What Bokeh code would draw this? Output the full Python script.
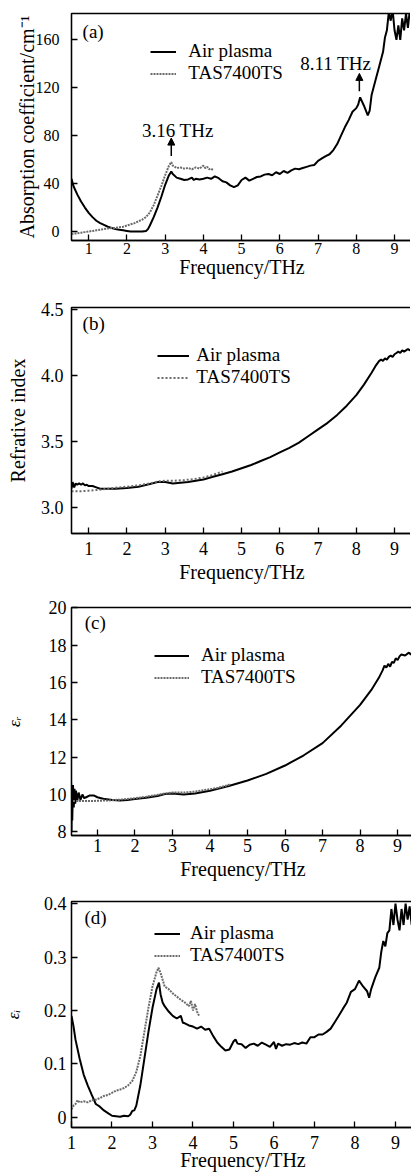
from bokeh.plotting import figure
from bokeh.layouts import column
from bokeh.models import (Range1d, FixedTicker, Legend, LegendItem, Label, Arrow,
                          NormalHead, PrintfTickFormatter)
from bokeh.embed import file_html
from bokeh.resources import INLINE

FONT = "Liberation Serif"

# ---------------- data ----------------
x_ticks = [1, 2, 3, 4, 5, 6, 7, 8, 9]

# (a) absorption coefficient
a_air_x = [0.55, 0.6, 0.7, 0.8, 0.9, 1.0, 1.1, 1.2, 1.3, 1.4,
           1.5, 1.6, 1.7, 1.8, 1.9, 2.0, 2.1, 2.2, 2.3, 2.4,
           2.5, 2.55, 2.6, 2.7, 2.8, 2.9, 3.0, 3.1, 3.16, 3.2,
           3.3, 3.4, 3.5, 3.6, 3.7, 3.75, 3.8, 3.9, 4.0, 4.1,
           4.2, 4.3, 4.4, 4.5, 4.6, 4.7, 4.8, 4.9, 5.0, 5.1,
           5.2, 5.3, 5.4, 5.5, 5.6, 5.7, 5.8, 5.9, 6.0, 6.1,
           6.2, 6.3, 6.4, 6.5, 6.6, 6.7, 6.8, 6.9, 7.0, 7.1,
           7.2, 7.3, 7.4, 7.5, 7.6, 7.7, 7.8, 7.9, 8.0, 8.05,
           8.1, 8.2, 8.3, 8.35, 8.4, 8.5, 8.6, 8.7, 8.75, 8.8,
           8.85, 8.9, 8.95, 9.0, 9.05, 9.1, 9.15, 9.2, 9.25, 9.3,
           9.35, 9.4, 9.47]
a_air_y = [44, 38, 31, 25, 20, 15.5, 12, 9, 7, 5.5,
           4, 3, 2, 1.5, 1, 0.5, 0, 0, 0, 0,
           0.5, 2, 5, 12, 20, 29, 39, 47, 50, 48,
           45, 44, 43, 43.5, 45, 43, 44, 43.5, 44, 45,
           44, 46, 44.5, 42, 41, 38.5, 37, 38.5, 43, 45,
           42.5, 44, 45.5, 46, 47.5, 48, 47, 49.5, 48, 50.5,
           49, 51, 52.5, 52, 53, 54, 55, 55.5, 59, 61,
           63, 64.5, 68, 73, 80, 87, 93, 100, 103, 106,
           112, 105, 97, 101, 114, 126, 138, 150, 162, 168,
           183, 176, 185, 168, 160, 172, 160, 178, 168, 182,
           170, 185, 172]
a_tas_x = [0.55, 0.7, 0.8, 0.9, 1.0,
           1.1, 1.2, 1.3, 1.4, 1.5, 1.6, 1.7, 1.8, 1.9, 2.0,
           2.1, 2.2, 2.3, 2.4, 2.5, 2.6, 2.7, 2.8, 2.9, 3.0, 3.1,
           3.16,
           3.2, 3.3, 3.4, 3.5, 3.6, 3.7, 3.8, 3.9, 4.0,
           4.05, 4.1, 4.15, 4.2, 4.25]
a_tas_y = [-2, -1.5, -1, -0.5, 0,
           0.5, 1, 1.5, 2, 2.5, 3, 3, 3.5, 4, 5,
           6, 7, 8.5, 10, 12, 16, 22, 30, 38, 47, 55,
           58,
           55, 53, 53.5, 52.5, 53, 52, 53.5, 52.5, 55,
           53, 54, 52, 52.5, 51.5]
a_y_ticks = [0, 40, 80, 120, 160]

# (b) refractive index
b_air_x = [0.55, 0.58, 0.62, 0.66, 0.7, 0.75, 0.8, 0.85, 0.9, 0.95,
           1.0, 1.1, 1.2, 1.3, 1.4, 1.5, 1.7, 2.0, 2.3, 2.6,
           2.8, 3.0, 3.2, 3.4, 3.6, 3.8, 4.0, 4.25, 4.5, 4.75,
           5.0, 5.25, 5.5, 5.75, 6.0, 6.25, 6.5, 6.75, 7.0, 7.25,
           7.5, 7.75, 8.0, 8.2, 8.4, 8.5, 8.6, 8.65, 8.7, 8.75,
           8.8, 8.85, 8.9, 8.95, 9.0, 9.05, 9.1, 9.15, 9.2, 9.25,
           9.3, 9.35, 9.4, 9.47]
b_air_y = [3.14, 3.19, 3.15, 3.18, 3.17, 3.18, 3.17, 3.18, 3.165, 3.17,
           3.16, 3.16, 3.15, 3.14, 3.14, 3.14, 3.14, 3.145, 3.155, 3.175,
           3.19, 3.19, 3.18, 3.185, 3.19, 3.2, 3.21, 3.23, 3.25, 3.27,
           3.295, 3.32, 3.35, 3.38, 3.415, 3.45, 3.49, 3.54, 3.59, 3.64,
           3.7, 3.77, 3.85, 3.93, 4.02, 4.07, 4.11, 4.12, 4.11, 4.13,
           4.12, 4.14, 4.15, 4.14, 4.16, 4.17, 4.18, 4.17, 4.19, 4.18,
           4.19, 4.2, 4.19, 4.21]
b_tas_x = [0.55, 0.8, 1.0, 1.2, 1.5, 1.8, 2.0, 2.3, 2.6, 2.8,
           3.0, 3.2, 3.5, 3.8, 4.0, 4.2, 4.4, 4.5]
b_tas_y = [3.12, 3.12, 3.125, 3.13, 3.14, 3.15, 3.155, 3.165, 3.18, 3.195,
           3.2, 3.2, 3.205, 3.215, 3.225, 3.24, 3.26, 3.27]
b_y_ticks = [3.0, 3.5, 4.0, 4.5]

# (c) real permittivity
c_air_x = [0.3, 0.31, 0.32, 0.33, 0.35, 0.37, 0.39, 0.41, 0.43, 0.46,
           0.5, 0.55, 0.6, 0.65, 0.7, 0.8, 0.9, 1.0, 1.1, 1.2,
           1.4, 1.6, 1.8, 2.0, 2.3, 2.6, 2.8, 3.0, 3.3, 3.6,
           4.0, 4.5, 5.0, 5.5, 6.0, 6.5, 7.0, 7.5, 8.0, 8.3,
           8.5, 8.6, 8.65, 8.7, 8.75, 8.8, 8.85, 8.9, 8.95, 9.0,
           9.05, 9.1, 9.2, 9.3, 9.35, 9.4, 9.45]
c_air_y = [10.6, 8.0, 10.4, 8.6, 10.5, 9.3, 10.3, 9.5, 10.2, 9.6,
           10.1, 9.7, 10.0, 9.8, 9.85, 9.95, 9.95, 9.85, 9.8, 9.75,
           9.7, 9.68, 9.7, 9.75, 9.82, 9.92, 10.02, 10.05, 10.0, 10.05,
           10.2, 10.45, 10.75, 11.1, 11.55, 12.1, 12.75, 13.7, 14.8, 15.6,
           16.25, 16.65, 16.9, 16.8, 17.0, 16.85, 17.1, 17.05, 17.3, 17.2,
           17.4, 17.5, 17.45, 17.6, 17.5, 17.65, 17.5]
c_tas_x = [0.35, 0.6, 0.8, 1.0, 1.3, 1.6, 2.0, 2.3, 2.6, 2.8,
           3.0, 3.3, 3.6, 3.9, 4.2, 4.4, 4.55]
c_tas_y = [9.65, 9.65, 9.65, 9.66, 9.68, 9.72, 9.8, 9.88, 9.98, 10.05,
           10.1, 10.1, 10.15, 10.25, 10.35, 10.45, 10.55]
c_y_ticks = [8, 10, 12, 14, 16, 18, 20]

# (d) imaginary permittivity
d_air_x = [1.0, 1.05, 1.1, 1.2, 1.3, 1.4, 1.5, 1.6, 1.7, 1.8,
           1.9, 2.0, 2.1, 2.2, 2.3, 2.4, 2.45, 2.5, 2.55, 2.6,
           2.7, 2.8, 2.9, 3.0, 3.1, 3.16, 3.2, 3.25, 3.3, 3.4,
           3.5, 3.6, 3.7, 3.75, 3.8, 3.9, 4.0, 4.1, 4.2, 4.3,
           4.4, 4.5, 4.6, 4.7, 4.8, 4.9, 5.0, 5.05, 5.1, 5.2,
           5.3, 5.4, 5.5, 5.6, 5.7, 5.8, 5.9, 6.0, 6.05, 6.1,
           6.2, 6.3, 6.4, 6.5, 6.6, 6.7, 6.8, 6.9, 7.0, 7.1,
           7.2, 7.3, 7.4, 7.5, 7.6, 7.7, 7.8, 7.9, 8.0, 8.1,
           8.2, 8.3, 8.35, 8.4, 8.5, 8.6, 8.65, 8.7, 8.75, 8.8,
           8.85, 8.9, 8.95, 9.0, 9.05, 9.1, 9.15, 9.2, 9.25, 9.3,
           9.35, 9.4, 9.47]
d_air_y = [0.19, 0.17, 0.145, 0.11, 0.08, 0.06, 0.042, 0.025, 0.02, 0.013,
           0.008, 0.003, 0.002, 0.001, 0.003, 0.002, 0.005, 0.012, 0.013, 0.022,
           0.06, 0.11, 0.16, 0.205, 0.24, 0.252, 0.23, 0.215, 0.208, 0.198,
           0.19, 0.185, 0.19, 0.177, 0.176, 0.172, 0.17, 0.166, 0.17, 0.164,
           0.166, 0.152, 0.14, 0.132, 0.125, 0.127, 0.142, 0.146, 0.138, 0.137,
           0.13, 0.136, 0.138, 0.134, 0.14, 0.136, 0.132, 0.141, 0.128, 0.138,
           0.134, 0.137, 0.136, 0.139, 0.137, 0.14, 0.138, 0.15, 0.15, 0.155,
           0.155, 0.16, 0.166, 0.178, 0.19, 0.203, 0.215, 0.235, 0.24, 0.256,
           0.245, 0.236, 0.224, 0.24, 0.262, 0.28, 0.31, 0.33, 0.32, 0.345,
           0.35, 0.39, 0.36, 0.4, 0.37, 0.35, 0.39, 0.36, 0.4, 0.37,
           0.395, 0.36, 0.4]
d_tas_x = [1.0, 1.05, 1.1, 1.15, 1.2, 1.3, 1.4, 1.5, 1.6, 1.7,
           1.8, 1.9, 2.0, 2.1, 2.2, 2.3, 2.4, 2.5, 2.6, 2.7,
           2.8, 2.9, 3.0, 3.1, 3.15, 3.2, 3.3, 3.4, 3.5, 3.6,
           3.7, 3.8, 3.9, 3.95, 4.0, 4.05, 4.1, 4.15]
d_tas_y = [0.015, 0.022, 0.025, 0.032, 0.028, 0.03, 0.028, 0.032, 0.033, 0.036,
           0.04, 0.042, 0.046, 0.05, 0.052, 0.055, 0.06, 0.068, 0.085, 0.115,
           0.16, 0.205, 0.245, 0.272, 0.28, 0.27, 0.245, 0.24, 0.232, 0.226,
           0.22, 0.215, 0.208, 0.218, 0.2, 0.212, 0.198, 0.19]
d_y_ticks = [0, 0.1, 0.2, 0.3, 0.4]

series_names = ["Air plasma", "TAS7400TS"]
peak_labels = ["3.16 THz", "8.11 THz"]
peak_pos = [3.16, 8.08]


def make_panel(tag, xr, yr, yticks, ylabel, air, tas, fw, fh, bl, bt, bb,
               tick_fs, ysto, ylsto, xsto, xlsto, leg, tagpos, ylab_fs="20px",
               ylab_italic=False, overrides=None, yfmt=None, tas_dash="2 1"):
    p = figure(frame_width=fw, frame_height=fh,
               x_range=Range1d(*xr), y_range=Range1d(*yr),
               output_backend="svg", toolbar_location=None,
               min_border_left=bl, min_border_right=1, min_border_top=bt,
               min_border_bottom=bb)
    p.grid.visible = False
    p.outline_line_color = "black"
    p.outline_line_width = 1.3
    p.background_fill_color = "white"
    p.border_fill_color = "white"

    r1 = p.line(air[0], air[1], line_color="black", line_width=2)
    r2 = p.line(tas[0], tas[1], line_color="#6a6a6a", line_width=2, line_dash=tas_dash)

    for ax in (p.xaxis[0], p.yaxis[0]):
        ax.major_tick_in = 6
        ax.major_tick_out = 0
        ax.minor_tick_in = 0
        ax.minor_tick_out = 0
        ax.axis_line_color = "black"
        ax.axis_line_width = 1.3
        ax.major_tick_line_width = 1.3
        ax.major_label_text_font = FONT
        ax.major_label_text_font_size = tick_fs
        ax.major_label_text_color = "black"
        ax.axis_label_text_font = FONT
        ax.axis_label_text_font_size = "20px"
        ax.axis_label_text_font_style = "normal"
        ax.axis_label_text_color = "black"

    p.xaxis[0].ticker = FixedTicker(ticks=x_ticks)
    p.xaxis[0].axis_label = "Frequency/THz"
    p.xaxis[0].major_label_standoff = xsto
    p.xaxis[0].axis_label_standoff = xlsto

    p.yaxis[0].ticker = FixedTicker(ticks=yticks)
    p.yaxis[0].axis_label = ylabel
    p.yaxis[0].major_label_standoff = ysto
    p.yaxis[0].axis_label_standoff = ylsto
    p.yaxis[0].axis_label_text_font_size = ylab_fs
    if yfmt:
        p.yaxis[0].formatter = PrintfTickFormatter(format=yfmt)
    if ylab_italic:
        p.yaxis[0].axis_label_text_font_style = "italic"
    if overrides:
        p.yaxis[0].major_label_overrides = overrides

    gx, gw, gh, lsto = leg
    legend = Legend(items=[LegendItem(label=series_names[0], renderers=[r1]),
                           LegendItem(label=series_names[1], renderers=[r2])],
                    location=gx, border_line_alpha=0, background_fill_alpha=0,
                    padding=0, margin=0, spacing=0, glyph_width=gw, glyph_height=gh,
                    label_height=gh, label_standoff=lsto,
                    label_text_font=FONT, label_text_font_size="19px",
                    label_text_color="black")
    p.add_layout(legend)

    p.add_layout(Label(x=tagpos[0], y=tagpos[1], text=tag, text_font=FONT,
                       text_font_size="19px", text_baseline="middle",
                       text_align="left", text_color="black"))
    return p


pa = make_panel("(a)", (0.55, 9.47), (-7.5, 182), a_y_ticks,
                "Absorption coefficient/cm\u207b\u00b9",
                (a_air_x, a_air_y), (a_tas_x, a_tas_y),
                fw=341, fh=227, bl=68, bt=13, bb=50, tick_fs="16px",
                ysto=12, ylsto=-5, xsto=2, xlsto=-1,
                leg=((88, 156), 26, 19, 12), tagpos=(0.84, 167))
for lbl, xp, lx, ly, ys, ye in zip(peak_labels, peak_pos, [3.33, 7.46], [84, 140],
                                   [63, 117], [78, 132]):
    pa.add_layout(Label(x=lx, y=ly, text=lbl, text_font=FONT, text_font_size="19px",
                        text_align="center", text_baseline="middle", text_color="black"))
    pa.add_layout(Arrow(end=NormalHead(size=7, fill_color="black", line_color="black"),
                        x_start=xp, y_start=ys, x_end=xp, y_end=ye,
                        line_color="black", line_width=1.5))

pb = make_panel("(b)", (0.55, 9.47), (2.8, 4.515), b_y_ticks, "Refrative index",
                (b_air_x, b_air_y), (b_tas_x, b_tas_y),
                fw=341, fh=226, bl=68, bt=17, bb=57, tick_fs="18px",
                ysto=8, ylsto=9, xsto=8, xlsto=3,
                leg=((89, 145), 32, 21, 7), tagpos=(0.84, 4.39), yfmt="%.1f",
                tas_dash="2 2")

pc = make_panel("(c)", (0.31, 9.45), (7.8, 20.02), c_y_ticks, "\u03b5\u1d63",
                (c_air_x, c_air_y), (c_tas_x, c_tas_y),
                fw=343, fh=228, bl=66, bt=17, bb=50, tick_fs="18px",
                ysto=5, ylsto=22, xsto=3, xlsto=3,
                leg=((83, 147), 35, 21, 12), tagpos=(0.66, 19.2),
                ylab_fs="17px", ylab_italic=True)

pd = make_panel("(d)", (1.0, 9.47), (-0.019, 0.404), d_y_ticks, "\u03b5\u1d62",
                (d_air_x, d_air_y), (d_tas_x, d_tas_y),
                fw=343, fh=226, bl=66, bt=16, bb=49, tick_fs="18px",
                ysto=5, ylsto=18, xsto=8, xlsto=-3,
                leg=((83, 161), 26, 19, 10), tagpos=(1.32, 0.374),
                ylab_fs="17px", ylab_italic=True, overrides={0: "0"})

layout = column(pa, pb, pc, pd, spacing=0)
open("out.html", "w").write(file_html(layout, INLINE))
